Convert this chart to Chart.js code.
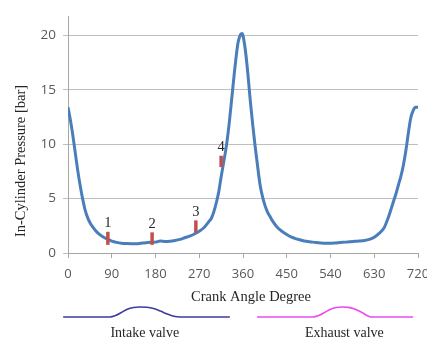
<!DOCTYPE html>
<html>
<head>
<meta charset="utf-8">
<script src="https://cdn.jsdelivr.net/npm/chart.js@4.4.1/dist/chart.umd.min.js"></script>
<style>
  body { margin: 0; background: #ffffff; }
  #wrap { position: relative; width: 427px; height: 340px; }
  #wrap canvas { position: absolute; left: 0; }
  #pressureChart { top: 0; }
  #valveChart { top: 290px; }
</style>
</head>
<body>
<div id="wrap">
  <canvas id="pressureChart" width="427" height="340"></canvas>
  <canvas id="valveChart" width="427" height="50"></canvas>
</div>
<script>
// in-cylinder pressure over one full cycle
var crankAngle = [0, 5, 10, 15, 20, 25, 30, 35, 40, 45, 50, 60, 70, 80, 90, 100, 110, 120, 130, 140,
  150, 160, 170, 180, 190, 200, 210, 220, 230, 240, 250, 260, 270, 280, 290, 295, 300, 305, 310, 315,
  320, 325, 330, 335, 340, 345, 350, 355, 358, 360, 365, 370, 375, 380, 385, 390, 395, 400, 405, 410,
  415, 420, 430, 440, 450, 460, 470, 480, 490, 500, 510, 520, 530, 540, 550, 560, 570, 580, 590, 600,
  610, 620, 630, 640, 650, 655, 660, 665, 670, 675, 680, 685, 690, 695, 700, 705, 710, 715, 720];
var pressure = [13.4, 12.2, 10.8, 9.2, 7.6, 6.2, 5.0, 4.0, 3.3, 2.8, 2.45, 1.9, 1.55, 1.3, 1.1, 0.98, 0.9, 0.87, 0.85, 0.85,
  0.9, 0.95, 0.98, 1.0, 1.1, 1.05, 1.08, 1.15, 1.25, 1.4, 1.55, 1.75, 2.0, 2.35, 2.9, 3.2, 3.8, 4.6, 5.6, 7.0,
  8.3, 9.6, 11.3, 13.4, 15.6, 17.7, 19.4, 20.1, 20.2, 20.0, 18.6, 16.5, 14.0, 11.8, 9.8, 8.0, 6.3, 5.2, 4.4, 3.8,
  3.4, 3.0, 2.4, 2.0, 1.7, 1.45, 1.3, 1.18, 1.08, 1.02, 0.96, 0.92, 0.9, 0.9, 0.93, 0.97, 1.0, 1.04, 1.07, 1.1,
  1.15, 1.25, 1.45, 1.8, 2.3, 2.8, 3.4, 4.1, 4.8, 5.5, 6.3, 7.1, 8.1, 9.4, 11.0, 12.4, 13.1, 13.4, 13.4];

// numbered measuring points
var markerText = ["1", "2", "3", "4"];
var markerAngle = [82, 173, 263, 315];
var markerLow = [0.75, 0.75, 1.85, 7.9];
var markerHigh = [1.95, 1.9, 3.0, 8.95];

var xTicks = [0, 90, 180, 270, 360, 450, 540, 630, 720];
var yTicks = [0, 5, 10, 15, 20];

// valve lift profiles (relative lift)
var intakeAngle = [-10, 86, 98, 110, 122, 135, 148, 162, 176, 190, 204, 218, 230, 333];
var intakeLift = [0, 0, 0.15, 0.45, 0.78, 0.95, 1.0, 0.97, 0.85, 0.6, 0.3, 0.07, 0, 0];
var exhaustAngle = [389, 504, 516, 528, 540, 552, 564, 577, 590, 603, 614, 621, 626, 710];
var exhaustLift = [0, 0, 0.15, 0.45, 0.78, 0.95, 1.0, 0.96, 0.8, 0.5, 0.18, 0.03, 0, 0];
var valveNames = ["Intake valve", "Exhaust valve"];

var serif = "'Liberation Serif', 'DejaVu Serif', serif";
var markerColor = "#c0504d";

function toPoints(xs, ys) {
  return xs.map(function (x, i) { return { x: x, y: ys[i] }; });
}

var markerSets = markerAngle.map(function (a, i) {
  return {
    data: [{ x: a, y: markerLow[i] }, { x: a, y: markerHigh[i] }],
    borderColor: markerColor,
    borderWidth: 3.5,
    borderCapStyle: "butt",
    pointRadius: 0,
    order: 0
  };
});

// axis titles and marker numbers
var textPlugin = {
  id: "chartTexts",
  afterDatasetsDraw: function (chart) {
    var ctx = chart.ctx;
    var area = chart.chartArea;
    var xs = chart.scales.x;
    var ys = chart.scales.y;
    ctx.save();
    ctx.fillStyle = "#262626";
    ctx.font = "14.5px " + serif;
    ctx.textAlign = "center";
    ctx.textBaseline = "bottom";
    for (var i = 0; i < markerText.length; i++) {
      ctx.fillText(markerText[i], xs.getPixelForValue(markerAngle[i]), ys.getPixelForValue(markerHigh[i]) - 1);
    }
    ctx.textBaseline = "middle";
    ctx.fillText("Crank Angle Degree", (area.left + area.right) / 2 + 8, area.bottom + 44);
    ctx.translate(21, area.bottom - 92);
    ctx.rotate(-Math.PI / 2);
    ctx.fillText("In-Cylinder Pressure [bar]", 0, 0);
    ctx.restore();
  }
};

var pressureChart = new Chart(document.getElementById("pressureChart"), {
  type: "line",
  data: {
    datasets: markerSets.concat([{
      data: toPoints(crankAngle, pressure),
      borderColor: "#4a7ebb",
      borderWidth: 3,
      pointRadius: 0,
      cubicInterpolationMode: "monotone",
      order: 1
    }])
  },
  options: {
    responsive: false,
    animation: false,
    devicePixelRatio: 1,
    layout: { padding: { left: 0, right: 9, top: 16, bottom: 0 } },
    plugins: { legend: { display: false }, tooltip: { enabled: false } },
    scales: {
      x: {
        type: "linear",
        min: 0,
        max: 720,
        afterFit: function (axis) {
          axis.height = 87;
          axis.paddingLeft = 0;
          axis.paddingRight = 0;
        },
        afterBuildTicks: function (axis) {
          axis.ticks = xTicks.map(function (v) { return { value: v }; });
        },
        grid: { drawOnChartArea: false, drawTicks: true, tickLength: 5, color: "#a6a6a6" },
        border: { display: true, color: "#a6a6a6", width: 1 },
        ticks: { padding: 8, color: "#595959", font: { family: "'Open Sans'", size: 13 } }
      },
      y: {
        type: "linear",
        min: 0,
        max: 21.8,
        afterFit: function (axis) {
          axis.width = 68;
          axis.paddingTop = 0;
          axis.paddingBottom = 0;
        },
        afterBuildTicks: function (axis) {
          axis.ticks = yTicks.map(function (v) { return { value: v }; });
        },
        grid: { color: "#bfbfbf", tickLength: 5, lineWidth: 1 },
        border: { display: true, color: "#a6a6a6", width: 1 },
        ticks: { padding: 7, color: "#595959", font: { family: "'Open Sans'", size: 13.5 } }
      }
    }
  },
  plugins: [textPlugin]
});

// valve names sit under the middle of each lift bump
var valveLabelPlugin = {
  id: "valveLabels",
  afterDatasetsDraw: function (chart) {
    var ctx = chart.ctx;
    var xs = chart.scales.x;
    var profiles = [[intakeAngle, intakeLift], [exhaustAngle, exhaustLift]];
    ctx.save();
    ctx.fillStyle = "#262626";
    ctx.font = "14px " + serif;
    ctx.textAlign = "center";
    ctx.textBaseline = "middle";
    profiles.forEach(function (p, k) {
      var open = p[0].filter(function (a, i) { return p[1][i] > 0; });
      var mid = (open[0] + open[open.length - 1]) / 2;
      ctx.fillText(valveNames[k], xs.getPixelForValue(mid), chart.chartArea.bottom + 16);
    });
    ctx.restore();
  }
};

var area = pressureChart.chartArea;
new Chart(document.getElementById("valveChart"), {
  type: "line",
  data: {
    datasets: [{
      data: toPoints(intakeAngle, intakeLift),
      borderColor: "#3d3d9c",
      borderWidth: 1.6,
      pointRadius: 0,
      cubicInterpolationMode: "monotone",
      clip: false
    }, {
      data: toPoints(exhaustAngle, exhaustLift),
      borderColor: "#ec4cec",
      borderWidth: 1.6,
      pointRadius: 0,
      cubicInterpolationMode: "monotone",
      clip: false
    }]
  },
  options: {
    responsive: false,
    animation: false,
    devicePixelRatio: 1,
    layout: { padding: { left: area.left, right: 427 - area.right, top: 17, bottom: 23 } },
    plugins: { legend: { display: false }, tooltip: { enabled: false } },
    scales: {
      x: { type: "linear", min: 0, max: 720, display: false },
      y: { min: 0, max: 1, display: false }
    }
  },
  plugins: [valveLabelPlugin]
});
</script>
</body>
</html>
